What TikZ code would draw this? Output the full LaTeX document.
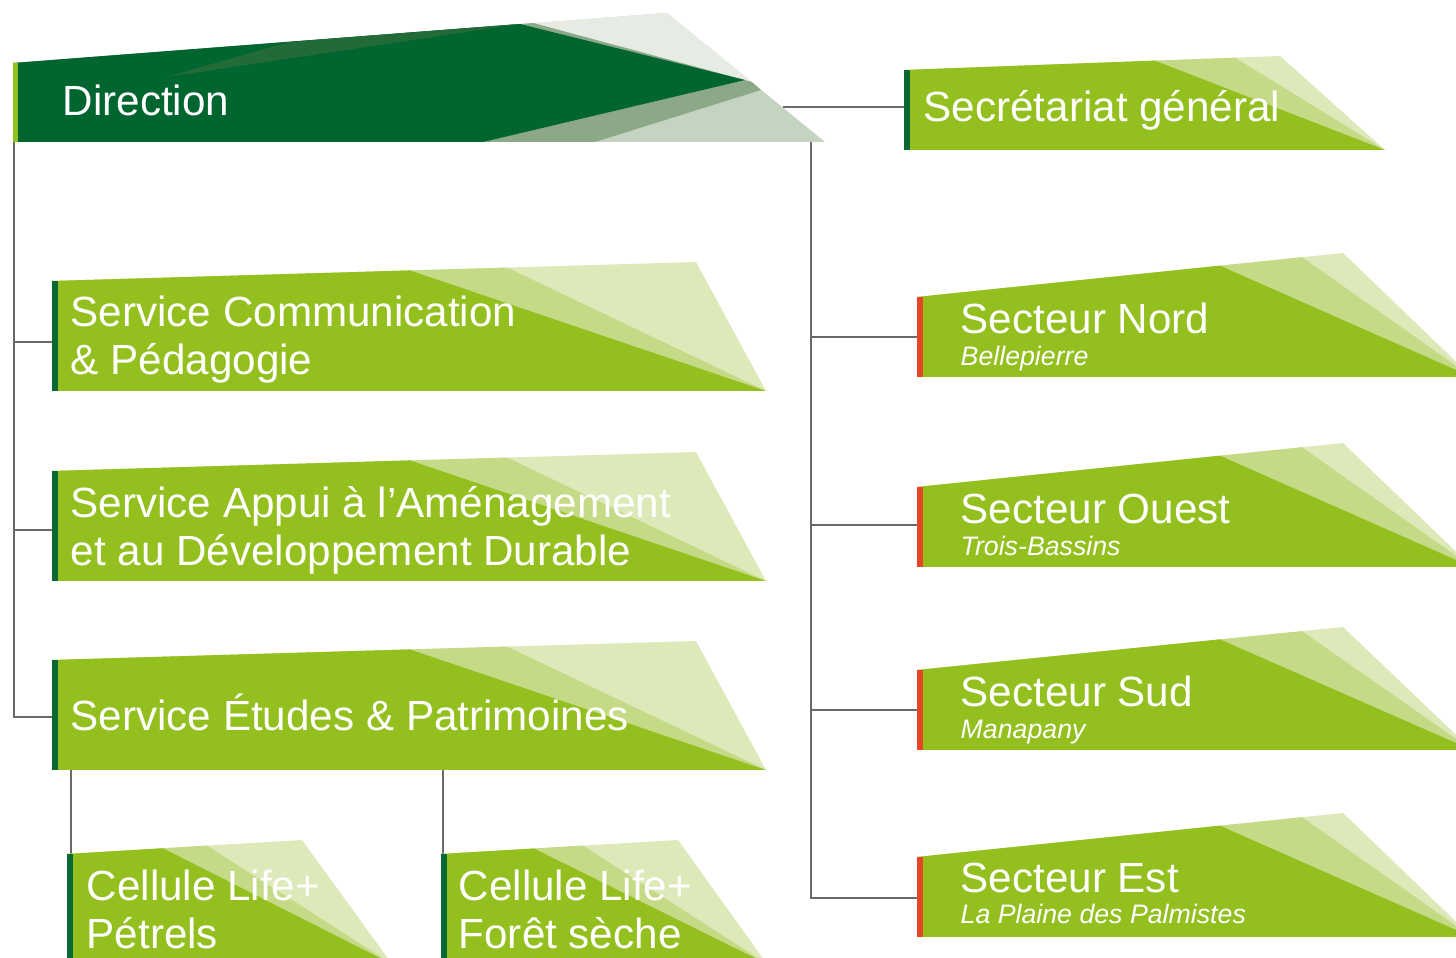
\documentclass[tikz,border=0pt]{standalone}
\usepackage{fontspec}
\setmainfont{Liberation Sans}
\usetikzlibrary{calc}

\definecolor{leaf}{RGB}{147,192,31}
\definecolor{leafmid}{RGB}{197,218,135}
\definecolor{leafpale}{RGB}{221,233,185}
\definecolor{forest}{RGB}{0,101,47}
\definecolor{forestband}{RGB}{34,106,56}
\definecolor{sage}{RGB}{141,168,137}
\definecolor{sagelight}{RGB}{197,211,193}
\definecolor{sagepale}{RGB}{230,235,228}
\definecolor{barred}{RGB}{230,70,38}
\definecolor{bardark}{RGB}{10,104,50}
\definecolor{barlime}{RGB}{142,194,31}
\definecolor{linkgray}{RGB}{105,105,105}

% left x, top y, bottom y, fold 1 x, fold 2 x, tip x, tip y, right x, bar colour
\newcommand{\banner}[9]{%
	\pgfmathsetmacro{\foldya}{#2+(#7-#2)/(#6-#1)*(#4-#1)}%
	\pgfmathsetmacro{\foldyb}{#2+(#7-#2)/(#6-#1)*(#5-#1)}%
	\fill[leafpale] (#1,#2) -- (#6,#7) -- (#8,#3) -- (#1,#3) -- cycle;
	\fill[leafmid] (#1,#2) -- (#5,\foldyb) -- (#8,#3) -- (#1,#3) -- cycle;
	\fill[leaf] (#1,#2) -- (#4,\foldya) -- (#8,#3) -- (#1,#3) -- cycle;
	\fill[#9] (#1,#2) rectangle ({#1+6},#3);
}

\begin{document}
\begin{tikzpicture}[x=0.01cm, y=-0.01cm,
	lbl/.style={text=white, inner sep=0pt, anchor=base west, align=left, font=\fontsize{12}{13.9}\selectfont},
	sublbl/.style={text=white, inner sep=0pt, anchor=base west, font=\fontsize{7.6}{9}\selectfont\itshape},
	link/.style={draw=linkgray, line width=0.75pt}]
		\useasboundingbox (0,0) rectangle (1456,958);
		\clip (0,0) rectangle (1456,958);

		\coordinate (dirsw) at (14,142);
		\coordinate (dirse) at (811,142);
		\coordinate (dire) at (783,107);
		\coordinate (secrw) at (904,107);
		\coordinate (commw) at (52,342);
		\coordinate (appuiw) at (52,530);
		\coordinate (etudesw) at (52,717);
		\coordinate (etudess) at (52,770);
		\coordinate (nordw) at (917,337);
		\coordinate (ouestw) at (917,525);
		\coordinate (sudw) at (917,710);
		\coordinate (estw) at (917,898);
		\coordinate (petrelsn) at (71,854);
		\coordinate (foretn) at (443,854);

		\draw[link] (dire) -- (secrw);
		\draw[link] (dirsw) |- (etudesw);
		\draw[link] (dirsw |- commw) -- (commw);
		\draw[link] (dirsw |- appuiw) -- (appuiw);
		\draw[link] (dirse) |- (estw);
		\draw[link] (dirse |- nordw) -- (nordw);
		\draw[link] (dirse |- ouestw) -- (ouestw);
		\draw[link] (dirse |- sudw) -- (sudw);
		\draw[link] (petrelsn |- etudess) -- (petrelsn);
		\draw[link] (foretn |- etudess) -- (foretn);

		% direction
		\fill[sagelight] (13,63) -- (667,13) -- (825,142) -- (13,142) -- cycle;
		\fill[sagepale] (533,23) -- (667,13) -- (752,82) -- cycle;
		\fill[sage] (13,63) -- (533,23) -- (752,82) -- (761,90) -- (595,142) -- (13,142) -- cycle;
		\fill[forest] (13,63) -- (520,24) -- (745,80) -- (483,142) -- (13,142) -- cycle;
		\fill[forestband] (166,77) -- (289,42) -- (520,24) -- cycle;
		\fill[barlime] (13,63) rectangle (18,142);

		\banner{904}{70}{150}{1155}{1235}{1280}{56}{1385}{bardark}
		\banner{52}{281}{391}{410}{507}{696}{262}{766}{bardark}
		\banner{52}{471}{581}{410}{507}{696}{452}{766}{bardark}
		\banner{52}{660}{770}{410}{507}{696}{641}{766}{bardark}
		\banner{917}{297}{377}{1220}{1302}{1343}{253}{1472}{barred}
		\banner{917}{487}{567}{1220}{1302}{1343}{443}{1472}{barred}
		\banner{917}{670}{750}{1220}{1302}{1343}{627}{1472}{barred}
		\banner{917}{857}{937}{1220}{1302}{1343}{813}{1472}{barred}
		\banner{67}{854}{964}{163}{207}{302}{840}{392}{bardark}
		\banner{441}{854}{964}{534}{583}{678}{840}{767}{bardark}

		\node[lbl] (dir) at (62,116) {Direction};
		\node[lbl] (secr) at (923,122) {Secrétariat général};
		\node[lbl] (comm) at (70,375) {Service Communication\\\& Pédagogie};
		\node[lbl] (appui) at (70,566) {Service Appui à l’Aménagement\\et au Développement Durable};
		\node[lbl] (etudes) at (70,731) {Service Études \& Patrimoines};
		\node[lbl] (nord) at (960,334) {Secteur Nord};
		\node[sublbl] (nordsub) at (960,366) {Bellepierre};
		\node[lbl] (ouest) at (960,524) {Secteur Ouest};
		\node[sublbl] (ouestsub) at (960,556) {Trois-Bassins};
		\node[lbl] (sud) at (960,707) {Secteur Sud};
		\node[sublbl] (sudsub) at (960,739) {Manapany};
		\node[lbl] (est) at (960,893) {Secteur Est};
		\node[sublbl] (estsub) at (960,924) {La Plaine des Palmistes};
		\node[lbl] (petrels) at (86,949) {Cellule Life+\\Pétrels};
		\node[lbl] (foret) at (458,949) {Cellule Life+\\Forêt sèche};
\end{tikzpicture}
\end{document}
